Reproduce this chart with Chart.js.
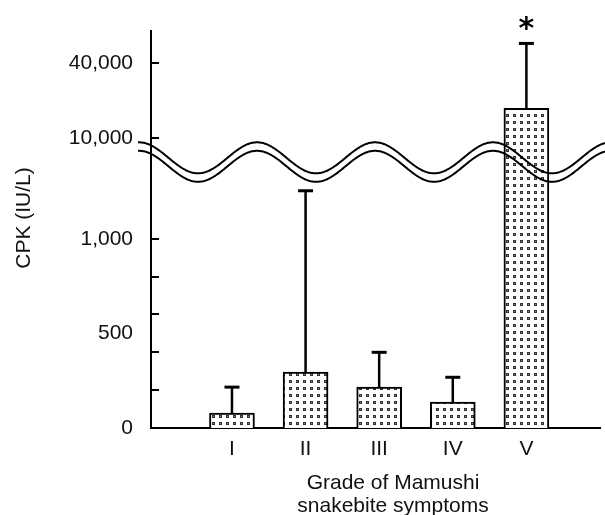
<!DOCTYPE html>
<html>
<head>
<meta charset="utf-8">
<script src="https://cdn.jsdelivr.net/npm/chart.js"></script>
<style>
  html, body { margin: 0; padding: 0; background: #fff; }
  canvas { display: block; }
</style>
</head>
<body>
<canvas id="chart" width="605" height="515"></canvas>
<script>
// data
const grades = ["I", "II", "III", "IV", "V"];
const meanCPK = [79, 295, 216, 137, 17400];
const upperSD = [216, 3000, 400, 268, 58000];
const significant = [false, false, false, false, true];
const yTickLabels = [0, 500, 1000, 10000, 40000];
const yTickMarks = [200, 400, 600, 800, 1000, 10000, 40000];

/* broken axis: linear 0-1000, then compressed log above the break */
function axisFraction(v) {
  let u;
  if (v <= 1000) u = v * 0.19;
  else if (v <= 10000) u = 190 + 101 * Math.log10(v / 1000);
  else u = 291 + 124.6 * Math.log10(v / 10000);
  return u / 399;
}

class BrokenScale extends Chart.LinearScale {
  buildTicks() {
    return yTickLabels.map((v) => ({ value: v }));
  }
  getPixelForValue(v) {
    return this.getPixelForDecimal(axisFraction(v));
  }
}
BrokenScale.id = "broken";
BrokenScale.defaults = {};
Chart.register(BrokenScale);

// dotted fill
const pc = document.createElement("canvas");
pc.width = 7;
pc.height = 7;
const pctx = pc.getContext("2d");
pctx.fillStyle = "#fff";
pctx.fillRect(0, 0, 7, 7);
pctx.fillStyle = "#333";
pctx.fillRect(2, 2, 3, 3);
pctx.fillStyle = "#8a8a8a";
pctx.fillRect(3, 3, 1, 1);
const dots = pctx.createPattern(pc, "repeat");

const FONT = '"Liberation Sans", Arial, sans-serif';
Chart.defaults.font.family = FONT;
Chart.defaults.font.size = 21;
Chart.defaults.color = "#111";

const decor = {
  id: "decor",
  afterDatasetsDraw(chart) {
    const { ctx, chartArea } = chart;
    const xs = chart.scales.x;
    const ys = chart.scales.y;
    ctx.save();
    ctx.strokeStyle = "#000";
    ctx.fillStyle = "#000";

    // inward tick marks
    ctx.lineWidth = 2;
    yTickMarks.forEach((v) => {
      const y = Math.round(ys.getPixelForValue(v));
      ctx.beginPath();
      ctx.moveTo(chartArea.left, y);
      ctx.lineTo(chartArea.left + 8, y);
      ctx.stroke();
    });

    // error bars (upper only)
    grades.forEach((g, i) => {
      const x = xs.getPixelForValue(i + 1);
      const y0 = ys.getPixelForValue(meanCPK[i]);
      const y1 = ys.getPixelForValue(upperSD[i]);
      ctx.lineWidth = 2.5;
      ctx.beginPath();
      ctx.moveTo(x, y0);
      ctx.lineTo(x, y1);
      ctx.stroke();
      ctx.lineWidth = 3;
      ctx.beginPath();
      ctx.moveTo(x - 7.5, y1);
      ctx.lineTo(x + 7.5, y1);
      ctx.stroke();

      if (significant[i]) {
        ctx.font = 'bold 30px "DejaVu Sans", sans-serif';
        ctx.textAlign = "center";
        ctx.textBaseline = "alphabetic";
        const m = ctx.measureText("*");
        const cy = y1 - 20;
        ctx.fillText("*", x, cy + (m.actualBoundingBoxAscent - m.actualBoundingBoxDescent) / 2);
      }
    });

    // axis break waves
    ctx.lineWidth = 2;
    [157.8, 166.3].forEach((c) => {
      ctx.beginPath();
      for (let x = 138; x <= 605; x++) {
        const y = c - 15.5 * Math.cos((2 * Math.PI * (x - 257)) / 118);
        if (x === 138) ctx.moveTo(x, y);
        else ctx.lineTo(x, y);
      }
      ctx.stroke();
    });
    ctx.restore();
  },
  afterDraw(chart) {
    const { ctx } = chart;
    ctx.save();
    ctx.fillStyle = "#111";
    ctx.font = "21px " + FONT;
    ctx.textAlign = "center";
    ctx.textBaseline = "alphabetic";
    ctx.fillText("Grade of Mamushi", 393, 489);
    ctx.fillText("snakebite symptoms", 393, 512);
    ctx.translate(24, 218);
    ctx.rotate(-Math.PI / 2);
    ctx.textBaseline = "middle";
    ctx.fillText("CPK (IU/L)", 0, 0);
    ctx.restore();
  },
};

new Chart(document.getElementById("chart").getContext("2d"), {
  type: "bar",
  data: {
    datasets: [
      {
        data: grades.map((g, i) => ({ x: i + 1, y: meanCPK[i] })),
        backgroundColor: dots,
        borderColor: "#000",
        borderWidth: 2,
        barThickness: 45,
      },
    ],
  },
  options: {
    responsive: false,
    animation: false,
    events: [],
    layout: { padding: { top: 29, right: 5, left: 0, bottom: 0 } },
    plugins: {
      legend: { display: false },
      tooltip: { enabled: false },
    },
    scales: {
      x: {
        type: "linear",
        min: -0.1,
        max: 6,
        offset: false,
        grid: { display: false, drawTicks: false, offset: false },
        border: { color: "#000", width: 2 },
        afterBuildTicks: (s) => {
          s.ticks = grades.map((g, i) => ({ value: i + 1 }));
        },
        ticks: {
          autoSkip: false,
          padding: 9,
          maxRotation: 0,
          callback: (v) => grades[v - 1] || "",
        },
        afterFit: (s) => {
          s.height = 87;
        },
      },
      y: {
        type: "broken",
        min: 0,
        max: 60000,
        grid: { display: false, drawTicks: false },
        border: { color: "#000", width: 2 },
        ticks: {
          autoSkip: false,
          padding: 18,
          callback: (v) => Number(v).toLocaleString("en-US"),
        },
        afterFit: (s) => {
          s.width = 151;
        },
      },
    },
  },
  plugins: [decor],
});
</script>
</body>
</html>
